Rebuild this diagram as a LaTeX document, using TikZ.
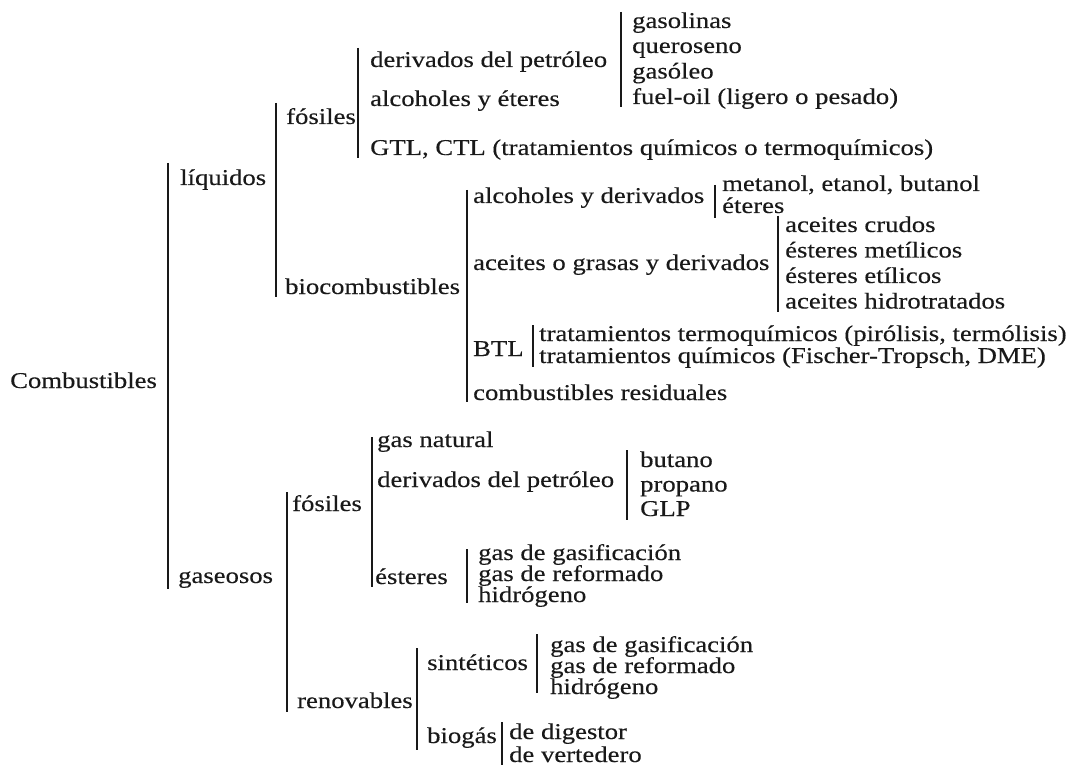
\documentclass[tikz,border=0pt]{standalone}
\usepackage{fontspec}
\setmainfont[FakeStretch=1.18,FakeBold=0.3]{Liberation Serif}
\begin{document}
\begin{tikzpicture}[x=1pt,y=-1pt,
  lbl/.style={anchor=base west, inner sep=0pt, text=black!90, font=\fontsize{22.6}{24}\selectfont},
  bar/.style={line width=2.4pt, draw=black!90}]
\useasboundingbox[fill=white] (0,0) rectangle (1078,767);
% level 0
\node[lbl] (comb) at (10,388) {Combustibles};
\draw[bar] (168,163) coordinate (b1t) -- (168,589) coordinate (b1b);
\node[lbl] (liq) at (180,185) {líquidos};
\node[lbl] (gas) at (178,583) {gaseosos};
% liquidos
\draw[bar] (276,103) coordinate (b2t) -- (276,297) coordinate (b2b);
\node[lbl] (fos) at (286,124) {fósiles};
\node[lbl] (bio) at (285,294) {biocombustibles};
% fosiles liquidos
\draw[bar] (358,48) coordinate (b3t) -- (358,158) coordinate (b3b);
\node[lbl] (dp) at (370,67) {derivados del petróleo};
\node[lbl] (ae) at (370,106) {alcoholes y éteres};
\node[lbl] (gtl) at (370,155) {GTL, CTL (tratamientos químicos o termoquímicos)};
\draw[bar] (621,12) coordinate (b4t) -- (621,107) coordinate (b4b);
\node[lbl] (g1) at (632,28) {gasolinas};
\node[lbl] (g2) at (632,53) {queroseno};
\node[lbl] (g3) at (632,78.5) {gasóleo};
\node[lbl] (g4) at (632,104) {fuel-oil (ligero o pesado)};
% biocombustibles
\draw[bar] (467,190) coordinate (b5t) -- (467,402) coordinate (b5b);
\node[lbl] (ad) at (473,203) {alcoholes y derivados};
\node[lbl] (ag) at (473,270) {aceites o grasas y derivados};
\node[lbl] (btl) at (473,356) {BTL};
\node[lbl] (cr) at (473,400) {combustibles residuales};
\draw[bar] (715,185) coordinate (b6t) -- (715,218) coordinate (b6b);
\node[lbl] (me) at (722,191) {metanol, etanol, butanol};
\node[lbl] (et) at (722,213) {éteres};
\draw[bar] (778,216) coordinate (b7t) -- (778,312) coordinate (b7b);
\node[lbl] (a1) at (785,232) {aceites crudos};
\node[lbl] (a2) at (785,257.5) {ésteres metílicos};
\node[lbl] (a3) at (785,283) {ésteres etílicos};
\node[lbl] (a4) at (785,308.5) {aceites hidrotratados};
\draw[bar] (533,325) coordinate (b8t) -- (533,367) coordinate (b8b);
\node[lbl] (t1) at (539,341) {tratamientos termoquímicos (pirólisis, termólisis)};
\node[lbl] (t2) at (539,363) {tratamientos químicos (Fischer-Tropsch, DME)};
% gaseosos
\draw[bar] (287,492) coordinate (b9t) -- (287,712) coordinate (b9b);
\node[lbl] (gf) at (292,511) {fósiles};
\node[lbl] (gr) at (297,708) {renovables};
\draw[bar] (372,437) coordinate (b10t) -- (372,587) coordinate (b10b);
\node[lbl] (gn) at (377,447) {gas natural};
\node[lbl] (gd) at (377,487) {derivados del petróleo};
\node[lbl] (ge) at (375,584) {ésteres};
\draw[bar] (627,450) coordinate (b11t) -- (627,520) coordinate (b11b);
\node[lbl] (p1) at (640,467) {butano};
\node[lbl] (p2) at (640,491.5) {propano};
\node[lbl] (p3) at (640,516) {GLP};
\draw[bar] (467,549) coordinate (b12t) -- (467,603) coordinate (b12b);
\node[lbl] (e1) at (478,560) {gas de gasificación};
\node[lbl] (e2) at (478,581) {gas de reformado};
\node[lbl] (e3) at (478,602) {hidrógeno};
\draw[bar] (417,648) coordinate (b13t) -- (417,750) coordinate (b13b);
\node[lbl] (si) at (427,670) {sintéticos};
\node[lbl] (bg) at (427,743) {biogás};
\draw[bar] (537,634) coordinate (b14t) -- (537,693) coordinate (b14b);
\node[lbl] (s1) at (550,652) {gas de gasificación};
\node[lbl] (s2) at (550,673) {gas de reformado};
\node[lbl] (s3) at (550,694) {hidrógeno};
\draw[bar] (502,722) coordinate (b15t) -- (502,765) coordinate (b15b);
\node[lbl] (d1) at (509,739) {de digestor};
\node[lbl] (d2) at (509,762) {de vertedero};
\end{tikzpicture}
\end{document}
